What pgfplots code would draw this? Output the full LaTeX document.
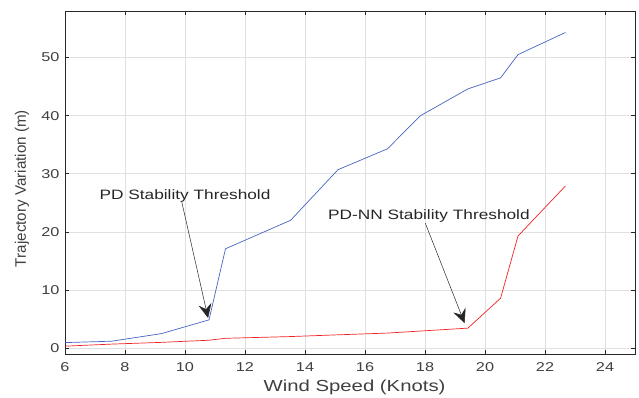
\documentclass[border=0pt]{standalone}
\usepackage{pgfplots}
\pgfplotsset{compat=1.18}
\usepackage{fontspec}
\setmainfont{Liberation Sans}
\newfontfamily\widefont{Liberation Sans}[FakeStretch=1.27]
\usetikzlibrary{arrows.meta,calc}
\definecolor{pdblue}{RGB}{70,100,195}
\definecolor{nnred}{RGB}{240,35,35}
\definecolor{axgray}{RGB}{40,40,40}
\definecolor{txtgray}{RGB}{64,64,64}
\begin{document}
\begin{tikzpicture}
\begin{axis}[
  scale only axis, width=570pt, height=343pt,
  xmin=6, xmax=25, ymin=-1, ymax=58,
  xtick={6,8,...,24}, ytick={0,10,...,50},
  grid=major, major grid style={draw=black!12, line width=0.6pt},
  axis line style={draw=axgray, line width=0.8pt},
  tick style={draw=axgray, line width=0.8pt},
  major tick length=4pt,
  tick align=inside, xtick pos=both, ytick pos=both,
  ticklabel style={font=\widefont\fontsize{12.8}{15}\selectfont, text=txtgray},
  xticklabel style={yshift=-5pt},
  yticklabel style={xshift=-2pt},
  /pgf/number format/assume math mode=true,
  xlabel={Wind Speed (Knots)}, ylabel={Trajectory Variation (m)},
  xlabel style={font=\widefont\fontsize{16}{18}\selectfont, text=txtgray,
    at={(axis description cs:0.508,-0.108)}, anchor=base},
  ylabel style={font=\fontsize{15.2}{17}\selectfont, text=txtgray,
    at={(axis description cs:-0.0754,0.4825)}, anchor=center, rotate=0},
  clip=false,
]
\addplot[pdblue, line width=0.7pt] coordinates {
(6,0.96) (7.55,1.2) (9.21,2.5) (10.8,4.87) (11.35,17.1) (13.52,22.0)
(15.1,30.7) (16.75,34.3) (17.85,40.0) (19.43,44.6) (20.52,46.5) (21.1,50.5) (22.68,54.3)};
\addplot[nnred, line width=0.7pt] coordinates {
(6,0.35) (7.55,0.7) (9.21,1.0) (10.8,1.37) (11.35,1.7) (13.52,2.0)
(15.1,2.3) (16.75,2.6) (17.85,2.95) (19.43,3.45) (20.52,8.6) (21.1,19.3) (22.68,27.9)};
\draw[black!85, line width=0.5pt, -{Stealth[length=14pt,width=13pt,inset=5pt]}] (axis cs:9.89,25.2) -- (axis cs:10.77,5.2);
\draw[black!85, line width=0.5pt, -{Stealth[length=14pt,width=13pt,inset=5pt]}] (axis cs:18.01,21.5) -- (axis cs:19.32,4.3);
\node[font=\widefont\fontsize{13.6}{15}\selectfont, text=black!85, anchor=base, inner sep=0pt] at (axis cs:10.0,25.5) {PD Stability Threshold};
\node[font=\widefont\fontsize{13.6}{15}\selectfont, text=black!85, anchor=base, inner sep=0pt] at (axis cs:18.13,22.1) {PD-NN Stability Threshold};
\end{axis}
\pgfresetboundingbox
\path ($(current axis.south west)+(-65pt,-44pt)$) rectangle ($(current axis.north east)+(4pt,11pt)$);
\end{tikzpicture}
\end{document}
